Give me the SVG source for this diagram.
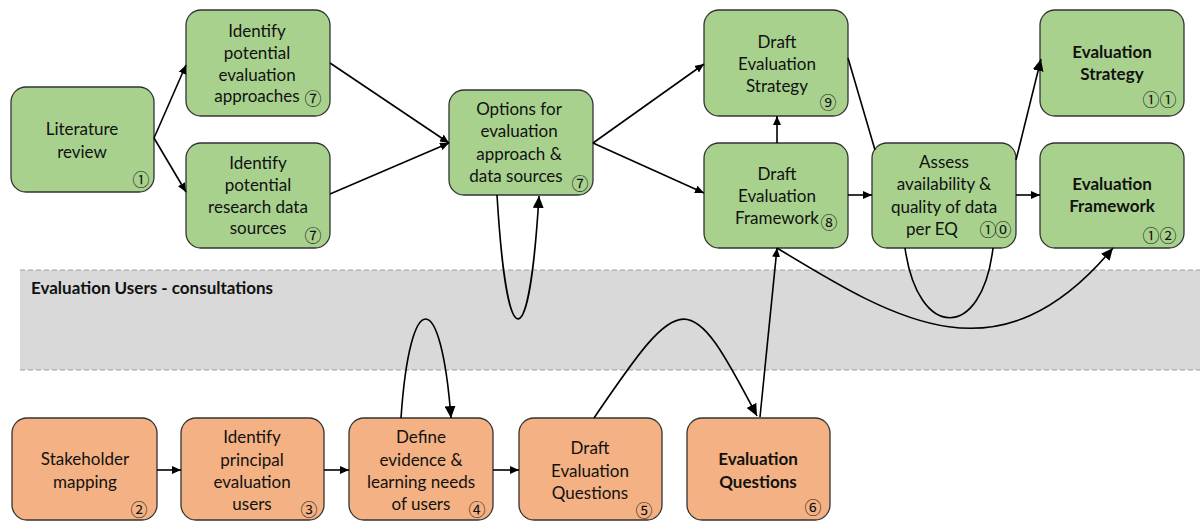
<svg xmlns="http://www.w3.org/2000/svg" width="1200" height="522" viewBox="0 0 1200 522">
<style>
.g{fill:#a9d18e;stroke:#333;stroke-width:1.3}
.o{fill:#f4b183;stroke:#333;stroke-width:1.3}
.t{font-family:Lato,"Liberation Sans",sans-serif;font-size:17px;text-anchor:middle;fill:#111}
.b{font-weight:bold}
.n{font-family:"Noto Sans CJK JP","DejaVu Sans",sans-serif;font-size:17px;text-anchor:middle;fill:#111}
.c{fill:none;stroke:#000;stroke-width:1.6}
.s{marker-end:url(#ms)}
.l{marker-end:url(#ml)}
</style>
<defs>
<marker id="ms" markerUnits="userSpaceOnUse" markerWidth="9" markerHeight="8" refX="9" refY="4" orient="auto"><path d="M0,0 L9,4 L0,8 z" fill="#000"/></marker>
<marker id="ml" markerUnits="userSpaceOnUse" markerWidth="12" markerHeight="11" refX="12" refY="5.5" orient="auto"><path d="M0,0 L12,5.5 L0,11 z" fill="#000"/></marker>
</defs>
<g id="band">
<rect x="20" y="270" width="1180" height="100" fill="#d9d9d9"/>
<line x1="20" y1="270" x2="1200" y2="270" stroke="#a0a0a0" stroke-width="1.2" stroke-dasharray="5,3"/>
<line x1="20" y1="370" x2="1200" y2="370" stroke="#a0a0a0" stroke-width="1.2" stroke-dasharray="5,3"/>
<text class="t b" x="31" y="294" style="text-anchor:start">Evaluation Users - consultations</text>
</g>
<g id="n1"><rect class="g" x="11" y="87" width="143" height="105" rx="15"/><text class="t" x="82"><tspan x="82" y="135">Literature</tspan><tspan x="82" y="158">review</tspan></text><text class="n" x="141" y="186">①</text></g>
<g id="n2"><rect class="g" x="186" y="10" width="144" height="106" rx="15"/><text class="t"><tspan x="257" y="37">Identify</tspan><tspan x="257" y="59">potential</tspan><tspan x="257" y="81">evaluation</tspan><tspan x="257" y="102">approaches</tspan></text><text class="n" x="313" y="105">⑦</text></g>
<g id="n3"><rect class="g" x="186" y="143" width="144" height="105" rx="15"/><text class="t"><tspan x="258" y="169">Identify</tspan><tspan x="258" y="191">potential</tspan><tspan x="258" y="213">research data</tspan><tspan x="258" y="234">sources</tspan></text><text class="n" x="313" y="242">⑦</text></g>
<g id="n4"><rect class="g" x="449" y="90" width="144" height="105" rx="15"/><text class="t"><tspan x="519" y="115">Options for</tspan><tspan x="519" y="137">evaluation</tspan><tspan x="519" y="160">approach &amp;</tspan><tspan x="516" y="182">data sources</tspan></text><text class="n" x="580" y="190">⑦</text></g>
<g id="n5"><rect class="g" x="704" y="10" width="144" height="106" rx="15"/><text class="t"><tspan x="777" y="48">Draft</tspan><tspan x="777" y="70">Evaluation</tspan><tspan x="777" y="92">Strategy</tspan></text><text class="n" x="828" y="109">⑨</text></g>
<g id="n6"><rect class="g" x="704" y="143" width="144" height="105" rx="15"/><text class="t"><tspan x="777" y="180">Draft</tspan><tspan x="777" y="202">Evaluation</tspan><tspan x="777" y="224">Framework</tspan></text><text class="n" x="829" y="229">⑧</text></g>
<g id="n7"><rect class="g" x="872" y="143" width="144" height="105" rx="15"/><text class="t"><tspan x="944" y="168">Assess</tspan><tspan x="944" y="190">availability &amp;</tspan><tspan x="944" y="213">quality of data</tspan><tspan x="932" y="235">per EQ</tspan></text><text class="n" x="988 1003" y="236">①⓪</text></g>
<g id="n8"><rect class="g" x="1040" y="10" width="144" height="106" rx="15"/><text class="t b"><tspan x="1112" y="58">Evaluation</tspan><tspan x="1112" y="80">Strategy</tspan></text><text class="n" x="1151 1168" y="106">①①</text></g>
<g id="n9"><rect class="g" x="1040" y="143" width="144" height="105" rx="15"/><text class="t b"><tspan x="1112" y="190">Evaluation</tspan><tspan x="1112" y="212">Framework</tspan></text><text class="n" x="1151 1168" y="242">①②</text></g>
<g id="n10"><rect class="o" x="12" y="418" width="145" height="102" rx="15"/><text class="t"><tspan x="85" y="465">Stakeholder</tspan><tspan x="85" y="488">mapping</tspan></text><text class="n" x="139" y="516">②</text></g>
<g id="n11"><rect class="o" x="181" y="418" width="143" height="102" rx="15"/><text class="t"><tspan x="252" y="443">Identify</tspan><tspan x="252" y="466">principal</tspan><tspan x="252" y="488">evaluation</tspan><tspan x="252" y="510">users</tspan></text><text class="n" x="309" y="516">③</text></g>
<g id="n12"><rect class="o" x="349" y="418" width="144" height="102" rx="15"/><text class="t"><tspan x="421" y="443">Define</tspan><tspan x="421" y="466">evidence &amp;</tspan><tspan x="421" y="488">learning needs</tspan><tspan x="421" y="510">of users</tspan></text><text class="n" x="477" y="516">④</text></g>
<g id="n13"><rect class="o" x="519" y="418" width="143" height="102" rx="15"/><text class="t"><tspan x="590" y="454">Draft</tspan><tspan x="590" y="477">Evaluation</tspan><tspan x="590" y="499">Questions</tspan></text><text class="n" x="644" y="517">⑤</text></g>
<g id="n14"><rect class="o" x="687" y="418" width="143" height="102" rx="15"/><text class="t b"><tspan x="758" y="465">Evaluation</tspan><tspan x="758" y="488">Questions</tspan></text><text class="n" x="813" y="514">⑥</text></g>
<g id="connectors">
<path class="c s" d="M154,138 L186,65"/>
<path class="c s" d="M154,138 L186,192"/>
<path class="c s" d="M330,63 L449,143"/>
<path class="c s" d="M330,194 L449,143"/>
<path class="c s" d="M593,143 L704,64"/>
<path class="c s" d="M593,143 L704,193"/>
<path class="c s" d="M777,143 L777,116"/>
<path class="c s" d="M848,195 L872,195"/>
<path class="c s" d="M1016,195 L1040,195"/>
<path class="c l" d="M1016,160 L1041,59"/>
<path class="c" d="M848,58 L875,150"/>
<path class="c l" d="M497,195 C507,360 529,360 539,196"/>
<path class="c" d="M905,248 C918,341 982,341 993,248"/>
<path class="c l" d="M777,248 C900,323 1000,383 1113,248"/>
<path class="c s" d="M760,417 L777,248"/>
<path class="c l" d="M594,418 C683,287 689,286 757,416"/>
<path class="c l" d="M401,418 C410,286 441,286 451,418"/>
<path class="c s" d="M157,470 L181,470"/>
<path class="c s" d="M324,470 L349,470"/>
<path class="c s" d="M493,470 L519,470"/>
</g>
</svg>
